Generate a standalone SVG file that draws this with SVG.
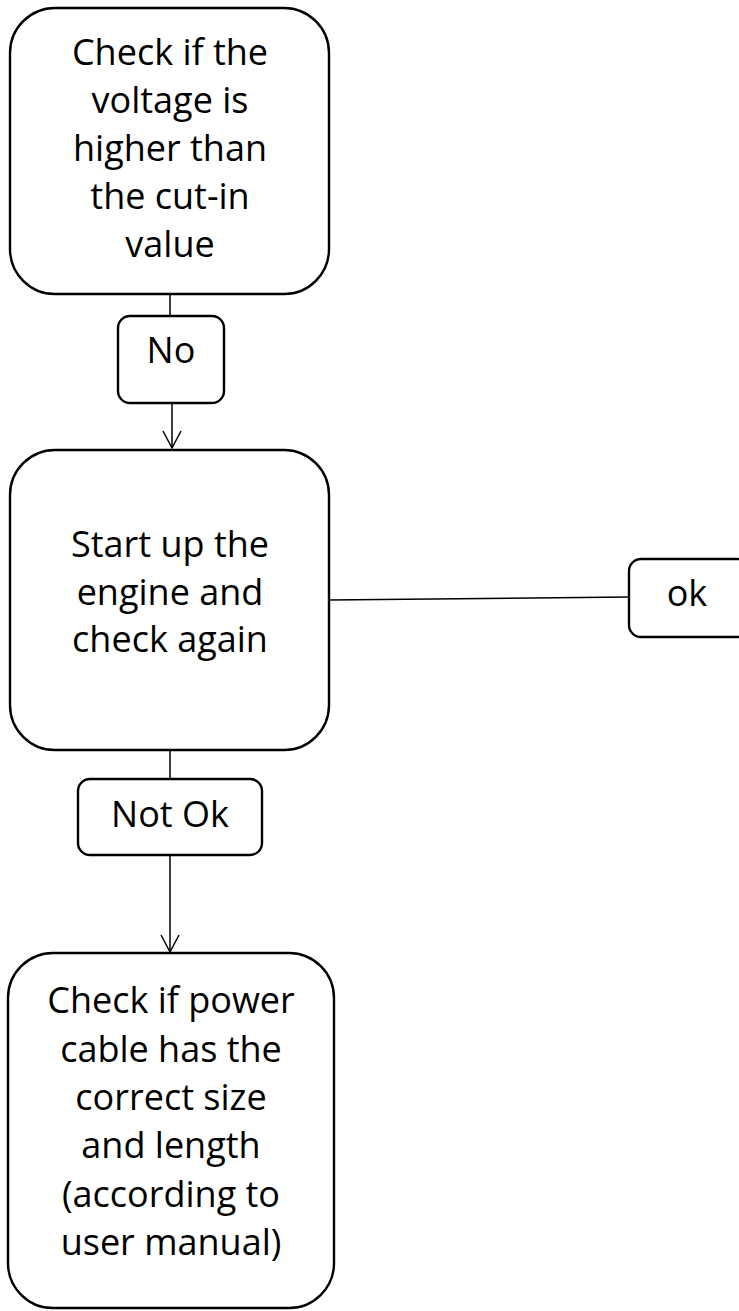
<svg xmlns="http://www.w3.org/2000/svg" width="739" height="1311" viewBox="0 0 739 1311">
<style>
.n{fill:#fff;stroke:#000;stroke-width:2.4}
.t{font-family:"Open Sans","Lato",sans-serif;font-size:36px;fill:#000;text-anchor:middle}
.c{fill:none;stroke:#000;stroke-width:1.5}
</style>
<defs>
<marker id="a" markerWidth="22" markerHeight="20" refX="19" refY="10" orient="auto" markerUnits="userSpaceOnUse">
<path d="M2,1 L19,10 L2,19" fill="none" stroke="#000" stroke-width="1.5"/>
</marker>
</defs>
<rect width="739" height="1311" fill="#fff"/>
<g id="connectors">
<line class="c" x1="170" y1="294" x2="170" y2="316"/>
<line class="c" x1="172" y1="403" x2="172" y2="448" marker-end="url(#a)"/>
<line class="c" x1="329" y1="600" x2="629" y2="597"/>
<line class="c" x1="170" y1="750" x2="170" y2="779"/>
<line class="c" x1="170" y1="855" x2="170" y2="952" marker-end="url(#a)"/>
</g>
<g id="n1">
<rect class="n" x="10" y="8" width="319" height="286" rx="45"/>
<text class="t" x="170" y="65">Check if the</text>
<text class="t" x="170" y="113">voltage is</text>
<text class="t" x="170" y="161">higher than</text>
<text class="t" x="170" y="209">the cut-in</text>
<text class="t" x="170" y="257">value</text>
</g>
<g id="n2">
<rect class="n" x="118" y="316" width="106" height="87" rx="12"/>
<text class="t" x="171" y="363">No</text>
</g>
<g id="n3">
<rect class="n" x="10" y="450" width="319" height="300" rx="45"/>
<text class="t" x="170" y="557">Start up the</text>
<text class="t" x="170" y="605">engine and</text>
<text class="t" x="170" y="652">check again</text>
</g>
<g id="n4">
<rect class="n" x="629" y="559" width="120" height="78" rx="12"/>
<text class="t" x="687" y="606">ok</text>
</g>
<g id="n5">
<rect class="n" x="78" y="779" width="184" height="76" rx="12"/>
<text class="t" x="170" y="827">Not Ok</text>
</g>
<g id="n6">
<rect class="n" x="8" y="953" width="326" height="355" rx="45"/>
<text class="t" x="171" y="1013">Check if power</text>
<text class="t" x="171" y="1062">cable has the</text>
<text class="t" x="171" y="1110">correct size</text>
<text class="t" x="171" y="1158">and length</text>
<text class="t" x="171" y="1207">(according to</text>
<text class="t" x="171" y="1255">user manual)</text>
</g>
</svg>
